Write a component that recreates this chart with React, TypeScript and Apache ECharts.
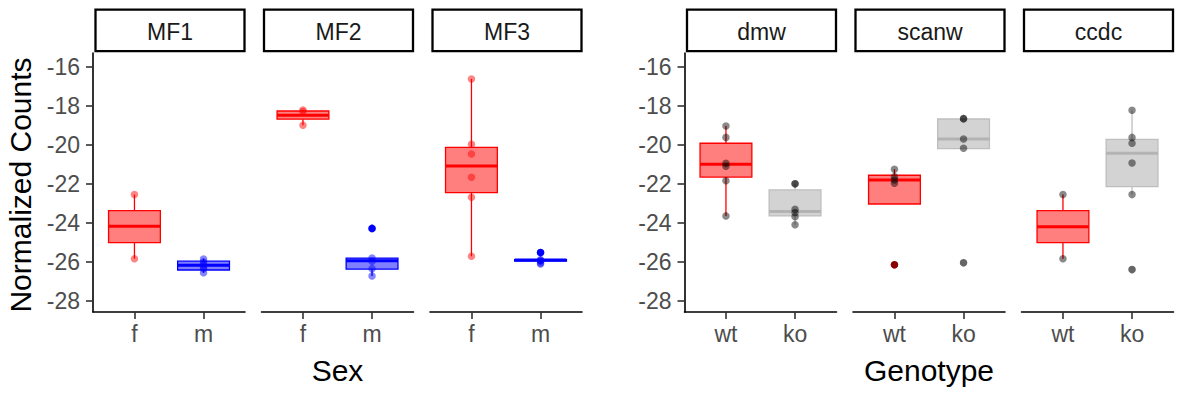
import React, { useEffect, useRef } from 'react';
import * as echarts from 'echarts';

// ---------- data ----------
const leftPanels = ['MF1', 'MF2', 'MF3'];
const rightPanels = ['dmw', 'scanw', 'ccdc'];
const sexCats = ['f', 'm'];
const genoCats = ['wt', 'ko'];
const yTicks = [-28, -26, -24, -22, -20, -18, -16];

// box stats per group: [lowerWhisker, Q1, median, Q3, upperWhisker]
const boxMF1 = [[-25.83, -25.01, -24.17, -23.37, -22.55], [-26.55, -26.41, -26.17, -25.96, -25.83]];
const boxMF2 = [[-19.0, -18.69, -18.49, -18.27, -18.22], [-26.72, -26.37, -25.93, -25.8, -25.8]];
const boxMF3 = [[-25.71, -22.45, -21.08, -20.13, -16.63], [-26.1, -25.95, -25.9, -25.88, -25.85]];
const boxDmw = [[-23.64, -21.65, -21.0, -19.92, -19.04], [-24.09, -23.64, -23.42, -22.31, -22.0]];
const boxScanw = [[-23.03, -23.03, -21.8, -21.56, -21.25], [-20.2, -20.2, -19.7, -18.68, -18.66]];
const boxCcdc = [[-25.83, -25.01, -24.19, -23.37, -22.55], [-22.55, -22.14, -20.43, -19.72, -18.23]];

// outliers per group
const outMF1 = [[], []];
const outMF2 = [[], [-24.28]];
const outMF3 = [[], [-25.52]];
const outDmw = [[], []];
const outScanw = [[-26.14], [-26.04]];
const outCcdc = [[], [-26.39]];

// individual points per group
const ptsMF1 = [[-22.55, -25.83], [-25.85, -26.0, -26.1, -26.25, -26.35, -26.55]];
const ptsMF2 = [[-18.22, -18.3, -19.0], [-24.28, -25.8, -25.96, -26.34, -26.72]];
const ptsMF3 = [[-16.63, -19.97, -20.47, -21.66, -22.69, -25.71], [-25.52, -25.88, -25.92, -25.95, -26.05, -26.1]];
const ptsDmw = [[-19.04, -19.62, -20.95, -21.1, -21.84, -23.64], [-22.0, -22.0, -23.3, -23.47, -23.68, -24.09]];
const ptsScanw = [[-21.25, -21.63, -21.8, -21.97, -26.14], [-18.66, -18.66, -19.7, -20.18, -26.04]];
const ptsCcdc = [[-22.55, -25.83], [-18.23, -19.62, -19.92, -20.93, -22.55, -26.39]];

// ---------- layout / style ----------
const FONT = "'Liberation Sans', Arial, Helvetica, sans-serif";
const panelNames = [...leftPanels, ...rightPanels];
const boxes = [boxMF1, boxMF2, boxMF3, boxDmw, boxScanw, boxCcdc];
const outs = [outMF1, outMF2, outMF3, outDmw, outScanw, outCcdc];
const pts = [ptsMF1, ptsMF2, ptsMF3, ptsDmw, ptsScanw, ptsCcdc];
const lefts = [93, 261.5, 430, 684.5, 853, 1021.5];
const PW = 152;
const TOP = 53;
const PH = 259;
const Y_MIN = -28.56;
const Y_MAX = -15.3;

const RED = { fill: 'rgba(255,0,0,0.5)', stroke: '#FF0000', median: '#FF0000' };
const BLUE = { fill: 'rgba(0,0,255,0.5)', stroke: '#0000FF', median: '#0000FF' };
const GRAY = { fill: '#D3D3D3', stroke: '#BEBEBE', median: '#B3B3B3' };

function boxSeries(gi: number, x: number, stats: number[], st: any) {
  return {
    type: 'custom',
    xAxisIndex: gi,
    yAxisIndex: gi,
    z: 2,
    silent: true,
    data: [[x, ...stats]],
    renderItem: (params: any, api: any) => {
      const xv = api.value(0);
      const c = (v: number) => api.coord([xv, v]);
      const [cx, yLo] = c(api.value(1));
      const yQ1 = c(api.value(2))[1];
      const yMed = c(api.value(3))[1];
      const yQ3 = c(api.value(4))[1];
      const yHi = c(api.value(5))[1];
      const hw = api.size([0.75, 0])[0] / 2;
      return {
        type: 'group',
        children: [
          { type: 'line', shape: { x1: cx, y1: yQ1, x2: cx, y2: yLo }, style: { stroke: st.stroke, lineWidth: 1.3 } },
          { type: 'line', shape: { x1: cx, y1: yQ3, x2: cx, y2: yHi }, style: { stroke: st.stroke, lineWidth: 1.3 } },
          { type: 'rect', shape: { x: cx - hw, y: yQ3, width: hw * 2, height: yQ1 - yQ3 }, style: { fill: st.fill, stroke: st.stroke, lineWidth: 1.3 } },
          { type: 'line', shape: { x1: cx - hw, y1: yMed, x2: cx + hw, y2: yMed }, style: { stroke: st.median, lineWidth: 3 } },
        ],
      };
    },
  };
}

function buildOption() {
  const grids: any[] = [];
  const xAxes: any[] = [];
  const yAxes: any[] = [];
  const series: any[] = [];
  const graphics: any[] = [];

  panelNames.forEach((name, i) => {
    const isLeft = i < 3;
    const cats = isLeft ? sexCats : genoCats;
    const first = i === 0 || i === 3;
    const styles = isLeft ? [RED, BLUE] : [RED, GRAY];
    const ptColors = isLeft ? ['rgba(255,0,0,0.6)', 'rgba(0,0,255,0.6)'] : ['rgba(0,0,0,0.58)', 'rgba(0,0,0,0.58)'];

    grids.push({ left: lefts[i], top: TOP, width: PW, height: PH, containLabel: false });
    xAxes.push({
      gridIndex: i,
      type: 'value',
      min: 0.4,
      max: 2.6,
      axisLine: { show: true, onZero: false, lineStyle: { color: '#000', width: 1.6 } },
      axisTick: { show: true, length: 7, customValues: [1, 2], lineStyle: { color: '#333', width: 1.6 } },
      axisLabel: {
        show: true,
        customValues: [1, 2],
        formatter: (v: number) => cats[Math.round(v) - 1] ?? '',
        color: '#4D4D4D',
        fontSize: 23,
        fontFamily: FONT,
        margin: 10,
      },
      splitLine: { show: false },
    });
    yAxes.push({
      gridIndex: i,
      type: 'value',
      min: Y_MIN,
      max: Y_MAX,
      show: first,
      axisLine: { show: true, onZero: false, lineStyle: { color: '#000', width: 1.6 } },
      axisTick: { show: true, length: 7, customValues: yTicks, lineStyle: { color: '#333', width: 1.6 } },
      axisLabel: {
        show: true,
        customValues: yTicks,
        formatter: (v: number) => String(v),
        color: '#4D4D4D',
        fontSize: 23,
        fontFamily: FONT,
        margin: 13,
      },
      splitLine: { show: false },
    });

    [0, 1].forEach((g) => {
      const x = g + 1;
      series.push(boxSeries(i, x, boxes[i][g], styles[g]));
    });
    [0, 1].forEach((g) => {
      const x = g + 1;
      if (outs[i][g].length) {
        series.push({
          type: 'scatter',
          xAxisIndex: i,
          yAxisIndex: i,
          z: 3,
          silent: true,
          symbolSize: 7.5,
          itemStyle: { color: styles[g].stroke, opacity: 1 },
          data: outs[i][g].map((v) => [x, v]),
        });
      }
    });
    [0, 1].forEach((g) => {
      const x = g + 1;
      series.push({
        type: 'scatter',
        xAxisIndex: i,
        yAxisIndex: i,
        z: 4,
        silent: true,
        symbolSize: 7.5,
        itemStyle: { color: ptColors[g], borderWidth: 0 },
        data: pts[i][g].map((v) => [x, v]),
      });
    });

    // facet strip
    graphics.push({
      type: 'rect',
      shape: { x: lefts[i] + 2.5, y: 9.7, width: 149, height: 41.5 },
      style: { fill: '#fff', stroke: '#000', lineWidth: 2.3 },
    });
    graphics.push({
      type: 'text',
      x: lefts[i] + 2.5 + 74.5,
      y: 31.5,
      style: { text: name, fill: '#1A1A1A', fontSize: 23, fontFamily: FONT, textAlign: 'center', textVerticalAlign: 'middle' },
    });
  });

  graphics.push({
    type: 'text',
    x: 20,
    y: 185,
    rotation: Math.PI / 2,
    style: { text: 'Normalized Counts', fill: '#000', fontSize: 30, fontFamily: FONT, textAlign: 'center', textVerticalAlign: 'middle' },
  });
  graphics.push({
    type: 'text',
    x: (lefts[0] + lefts[2] + PW) / 2,
    y: 370,
    style: { text: 'Sex', fill: '#000', fontSize: 30, fontFamily: FONT, textAlign: 'center', textVerticalAlign: 'middle' },
  });
  graphics.push({
    type: 'text',
    x: (lefts[3] + lefts[5] + PW) / 2,
    y: 370,
    style: { text: 'Genotype', fill: '#000', fontSize: 30, fontFamily: FONT, textAlign: 'center', textVerticalAlign: 'middle' },
  });

  return {
    animation: false,
    backgroundColor: '#fff',
    grid: grids,
    xAxis: xAxes,
    yAxis: yAxes,
    series,
    graphic: graphics,
  };
}

export default function App() {
  const ref = useRef<HTMLDivElement>(null);
  useEffect(() => {
    document.body.style.margin = '0';
    if (!ref.current) return;
    const chart = echarts.init(ref.current, null, { renderer: 'svg' });
    chart.setOption(buildOption() as any);
    return () => chart.dispose();
  }, []);
  return <div ref={ref} style={{ width: 1181, height: 393 }} />;
}
